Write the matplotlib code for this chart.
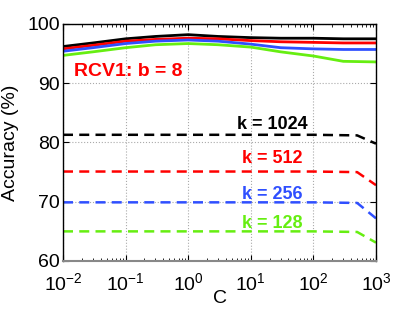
import matplotlib
matplotlib.use("Agg")
import matplotlib.pyplot as plt

plt.rcParams['font.family'] = ['Liberation Sans', 'DejaVu Sans']
plt.rcParams['mathtext.fontset'] = 'custom'
plt.rcParams['mathtext.rm'] = 'Liberation Sans'

C = [1e-2, 1e-1, 1e0, 1e1, 1e2, 5e2, 1e3]
C_dense = [1e-2, 3e-2, 1e-1, 3e-1, 1e0, 3e0, 1e1, 3e1, 1e2, 3e2, 1e3]

# solid curves (b = 8, full accuracy)
acc_1024 = [96.2, 96.8, 97.5, 97.9, 98.2, 97.9, 97.7, 97.6, 97.6, 97.5, 97.5]
acc_512 = [95.8, 96.4, 97.1, 97.4, 97.6, 97.5, 97.2, 97.0, 96.9, 96.8, 96.8]
acc_256 = [95.4, 96.0, 96.7, 97.1, 97.3, 97.1, 96.6, 96.0, 95.8, 95.7, 95.7]
acc_128 = [94.7, 95.3, 96.0, 96.5, 96.7, 96.5, 96.1, 95.3, 94.6, 93.7, 93.6]

# dashed curves
dash_1024 = [81.3, 81.3, 81.3, 81.3, 81.3, 81.2, 79.8]
dash_512 = [75.1, 75.1, 75.1, 75.1, 75.1, 75.0, 72.8]
dash_256 = [69.9, 69.9, 69.9, 69.9, 69.9, 69.8, 67.2]
dash_128 = [65.0, 65.0, 65.0, 65.0, 65.0, 64.9, 63.1]

labels = ['k = 1024', 'k = 512', 'k = 256', 'k = 128']
colors = ['black', '#ff0000', '#2f4fff', '#66ee11']
label_y = [83.0, 77.3, 71.2, 66.3]

fig = plt.figure(figsize=(4.15, 3.12), dpi=100)
ax = fig.add_axes([63/415, 1-261/312, 313/415, 237/312])

solid = [acc_1024, acc_512, acc_256, acc_128]
dashed = [dash_1024, dash_512, dash_256, dash_128]
for s, d, c, lab, ly in zip(solid, dashed, colors, labels, label_y):
    ax.plot(C_dense, s, color=c, lw=2)
    ax.plot(C, d, color=c, lw=1.8, ls=(0, (4, 2.5)))
    ax.text(2.2e1, ly, lab, color=c, fontsize=13, fontweight='bold', ha='center', va='center')

ax.text(1.5e-2, 92.0, 'RCV1: b = 8', color='#ff0000', fontsize=14, fontweight='bold', va='center')

ax.set_xscale('log')
ax.set_xlim(1e-2, 1e3)
ax.set_ylim(60, 100)
ax.set_yticks([60, 70, 80, 90, 100])
ax.set_xlabel('C', fontsize=14, labelpad=-3)
ax.set_ylabel('Accuracy (%)', fontsize=14, labelpad=6)
ax.grid(True, which='major', ls=':', color='#aaaaaa', lw=0.8)
ax.tick_params(labelsize=14, direction='in', which='both', top=True, right=True)
ax.tick_params(which='major', length=4, pad=2)
ax.tick_params(axis='x', which='major', pad=8)
ax.tick_params(which='minor', length=2)
for sp in ax.spines.values():
    sp.set_linewidth(1.0)
ax.spines['bottom'].set_color('#888888')
ax.spines['bottom'].set_linewidth(1.5)

fig.savefig('out.png', dpi=100)
